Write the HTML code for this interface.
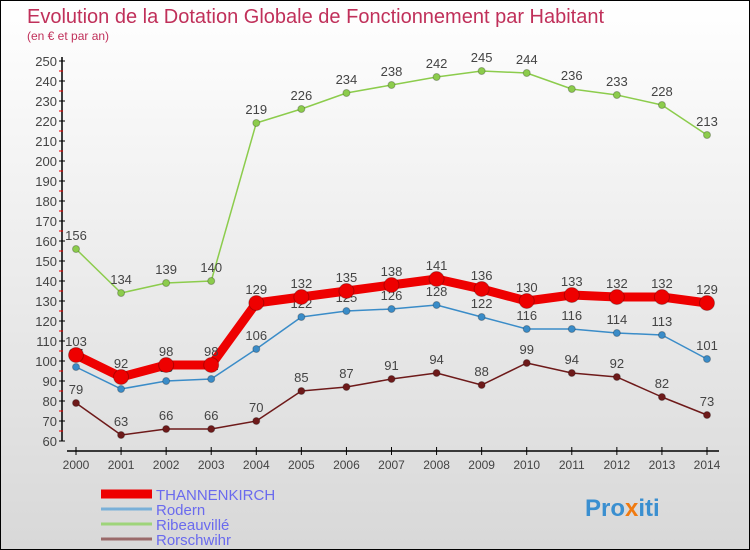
<!DOCTYPE html>
<html><head><meta charset="utf-8"><style>
body{margin:0}
#c{width:750px;height:550px;position:relative;background:linear-gradient(#fff,#d8d8d8);border:1px solid #000;box-sizing:border-box;overflow:hidden;font-family:"Liberation Sans",sans-serif}
text{font-family:"Liberation Sans",sans-serif}
</style></head><body>
<div id="c">
<svg id="s" width="750" height="550">
<text x="26" y="22" font-size="20" fill="#c0305a">Evolution de la Dotation Globale de Fonctionnement par Habitant</text>
<text x="26" y="39" font-size="12" fill="#c0305a">(en € et par an)</text>
<g id="g"></g>
<g><text x="584" y="515" font-size="24" font-weight="bold" fill="#3a8fd0">Pro<tspan fill="#f07a10">x</tspan>iti</text></g>
</svg></div>
<script>
const years=[2000,2001,2002,2003,2004,2005,2006,2007,2008,2009,2010,2011,2012,2013,2014];
const yTicks=[60,70,80,90,100,110,120,130,140,150,160,170,180,190,200,210,220,230,240,250];
const thann=[103,92,98,98,129,132,135,138,141,136,130,133,132,132,129];
const rodern=[97,86,90,91,106,122,125,126,128,122,116,116,114,113,101];
const ribeau=[156,134,139,140,219,226,234,238,242,245,244,236,233,228,213];
const rorsch=[79,63,66,66,70,85,87,91,94,88,99,94,92,82,73];
const names=["THANNENKIRCH","Rodern","Ribeauvillé","Rorschwihr"];
const NS="http://www.w3.org/2000/svg",g=document.getElementById('g');
const X=i=>75+i*(706-75)/14, Y=v=>440-(v-60)*(380/190);
function el(t,a,n){const e=document.createElementNS(NS,t);for(const k in a)e.setAttribute(k,a[k]);


g.appendChild(e);return e;}
el('line',{x1:61,y1:56,x2:61,y2:440,stroke:'#000','stroke-width':1.5},'y-axis');
el('line',{x1:66,y1:450,x2:718,y2:450,stroke:'#000','stroke-width':1.5},'x-axis');
yTicks.forEach(v=>{el('line',{x1:58,y1:Y(v),x2:64,y2:Y(v),stroke:'#000'},'y-tick');
if(v<250)el('line',{x1:58,y1:Y(v+5),x2:62,y2:Y(v+5),stroke:'#e00'},'y-minor-tick');
const t=el('text',{x:56,y:Y(v)+5,'font-size':13,fill:'#444','text-anchor':'end'},'y-tick-label');t.textContent=v;});
years.forEach((y,i)=>{el('line',{x1:X(i),y1:446,x2:X(i),y2:454,stroke:'#000'},'x-tick');
const t=el('text',{x:X(i),y:468,'font-size':12,fill:'#444','text-anchor':'middle'},'x-tick-label');t.textContent=y;});
function series(d,col,w,r,n){
el('polyline',{points:d.map((v,i)=>X(i)+','+Y(v)).join(' '),fill:'none',stroke:col,'stroke-width':w,'stroke-linejoin':'round'},n+'-line');
d.forEach((v,i)=>{el('circle',{cx:X(i),cy:Y(v),r:r,fill:col,stroke:'rgba(0,0,0,0.25)'},n+'-point');
const t=el('text',{x:X(i),y:Y(v)-9,'font-size':13,fill:'#444','text-anchor':'middle'},n+'-value');t.textContent=v;});}
series(ribeau,'#8ccc4c',1.5,3.5,'ribeauville');
series(rorsch,'#6e1a1a',1.5,3.5,'rorschwihr');
series(rodern,'#3a8cc8',1.5,3.5,'rodern');
series(thann,'#ee0000',9,7.5,'thannenkirch');
const lc=['#ee0000','#7ab0d8','#9ed47a','#9a6a6a'],lw=[9,3,3,3];
names.forEach((n,i)=>{const y=493+i*15;
el('line',{x1:100,y1:y,x2:151,y2:y,stroke:lc[i],'stroke-width':lw[i]},'legend-swatch');
const t=el('text',{x:155,y:y+6,'font-size':15,fill:'#6a6aee'},'legend-entry');t.textContent=n;});
</script>
</body></html>
